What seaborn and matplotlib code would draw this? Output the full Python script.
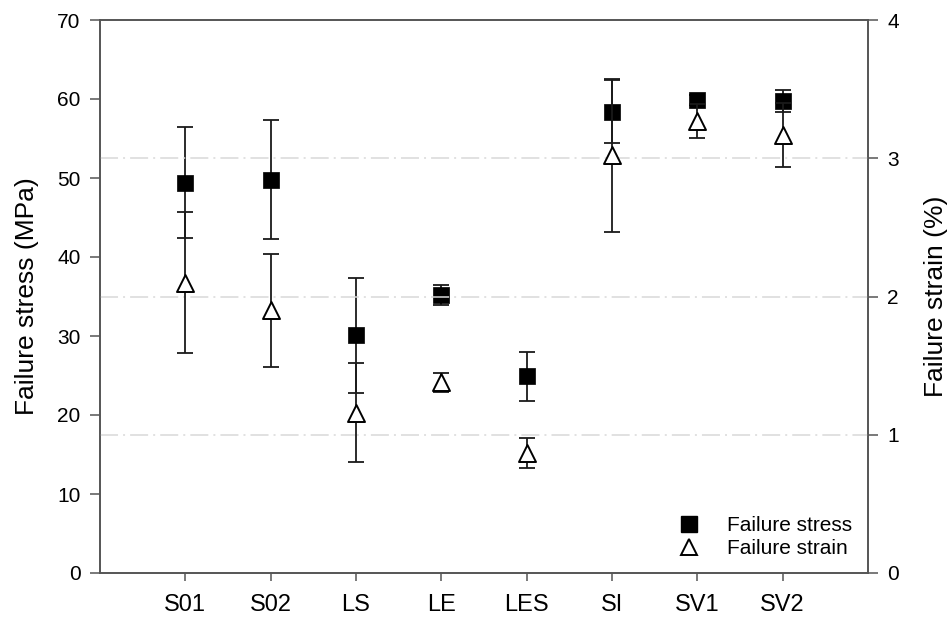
import numpy as np
import matplotlib
matplotlib.use("Agg")
import matplotlib.pyplot as plt
import seaborn as sns
from matplotlib.lines import Line2D

groups = ["S01", "S02", "LS", "LE", "LES", "SI", "SV1", "SV2"]
stress = [49.4, 49.8, 30.1, 35.2, 24.9, 58.4, 59.9, 59.7]
stress_err = [7.0, 7.5, 7.3, 1.3, 3.1, 4.0, 0.6, 1.4]
strain = [2.10, 1.90, 1.16, 1.38, 0.87, 3.02, 3.27, 3.17]
strain_err = [0.51, 0.41, 0.36, 0.07, 0.11, 0.55, 0.12, 0.23]

sns.set_style("ticks")
plt.rcParams["font.family"] = ["Liberation Sans", "DejaVu Sans"]
plt.rcParams["text.color"] = "black"

spine_col = "#555555"
pos = np.arange(1, len(groups) + 1)

fig = plt.figure(figsize=(9.52, 6.26), dpi=100)
ax = fig.add_axes([100 / 952, 1 - 573 / 626, 768 / 952, 553 / 626])
ax2 = ax.twinx()

# grid lines belong to the strain axis
for v in [1, 2, 3]:
    ax2.axhline(v, color="#d9d9d9", lw=1.1, ls=(0, (11.8, 3.3, 1.3, 3.3)), zorder=0)

ax.errorbar(pos, stress, yerr=stress_err, fmt="none", ecolor="#1a1a1a",
            elinewidth=1.3, capsize=6, capthick=1.3, zorder=2)
ax2.errorbar(pos, strain, yerr=strain_err, fmt="none", ecolor="#1a1a1a",
             elinewidth=1.3, capsize=6, capthick=1.3, zorder=2)

sns.scatterplot(x=pos, y=stress, ax=ax, marker="s", s=120, color="black",
                edgecolor="black", linewidth=0.5, zorder=3, legend=False)
sns.scatterplot(x=pos, y=strain, ax=ax2, marker="^", s=150, color="white",
                edgecolor="black", linewidth=1.4, zorder=3, legend=False)

ax.set_xlim(0, 9)
ax.set_ylim(0, 70)
ax2.set_ylim(0, 4)
ax.set_xticks(pos)
ax.set_xticklabels(groups)
ax.set_yticks(np.arange(0, 71, 10))
ax2.set_yticks(np.arange(0, 5, 1))

for a in (ax, ax2):
    for sp in a.spines.values():
        sp.set_color(spine_col)
        sp.set_linewidth(1.2)
        sp.set_visible(True)
    a.set_xlabel("")
    a.set_ylabel("")

ax.tick_params(axis="x", length=6, width=1.1, color=spine_col, labelcolor="black",
               labelsize=17, pad=9)
ax.tick_params(axis="y", length=7, width=1.1, color=spine_col, labelcolor="black",
               labelsize=15, pad=7)
ax2.tick_params(axis="y", length=7, width=1.1, color=spine_col, labelcolor="black",
                labelsize=15, pad=7)

fig.text(27 / 952, 1 - 296 / 626, "Failure stress (MPa)", rotation=90,
         ha="center", va="center", fontsize=19)
fig.text(936 / 952, 1 - 296 / 626, "Failure strain (%)", rotation=90,
         ha="center", va="center", fontsize=19)

handles = [
    Line2D([], [], ls="none", marker="s", markersize=11, color="black"),
    Line2D([], [], ls="none", marker="^", markersize=12, markerfacecolor="white",
           markeredgecolor="black", markeredgewidth=1.4),
]
fig.legend(handles, ["Failure stress", "Failure strain"], loc="lower right",
           bbox_to_anchor=(852 / 952, 1 - 558 / 626), frameon=False, fontsize=15,
           handlelength=1.0, handletextpad=1.3, labelspacing=0.2,
           borderpad=0, borderaxespad=0)

fig.savefig("out.png", dpi=100)
